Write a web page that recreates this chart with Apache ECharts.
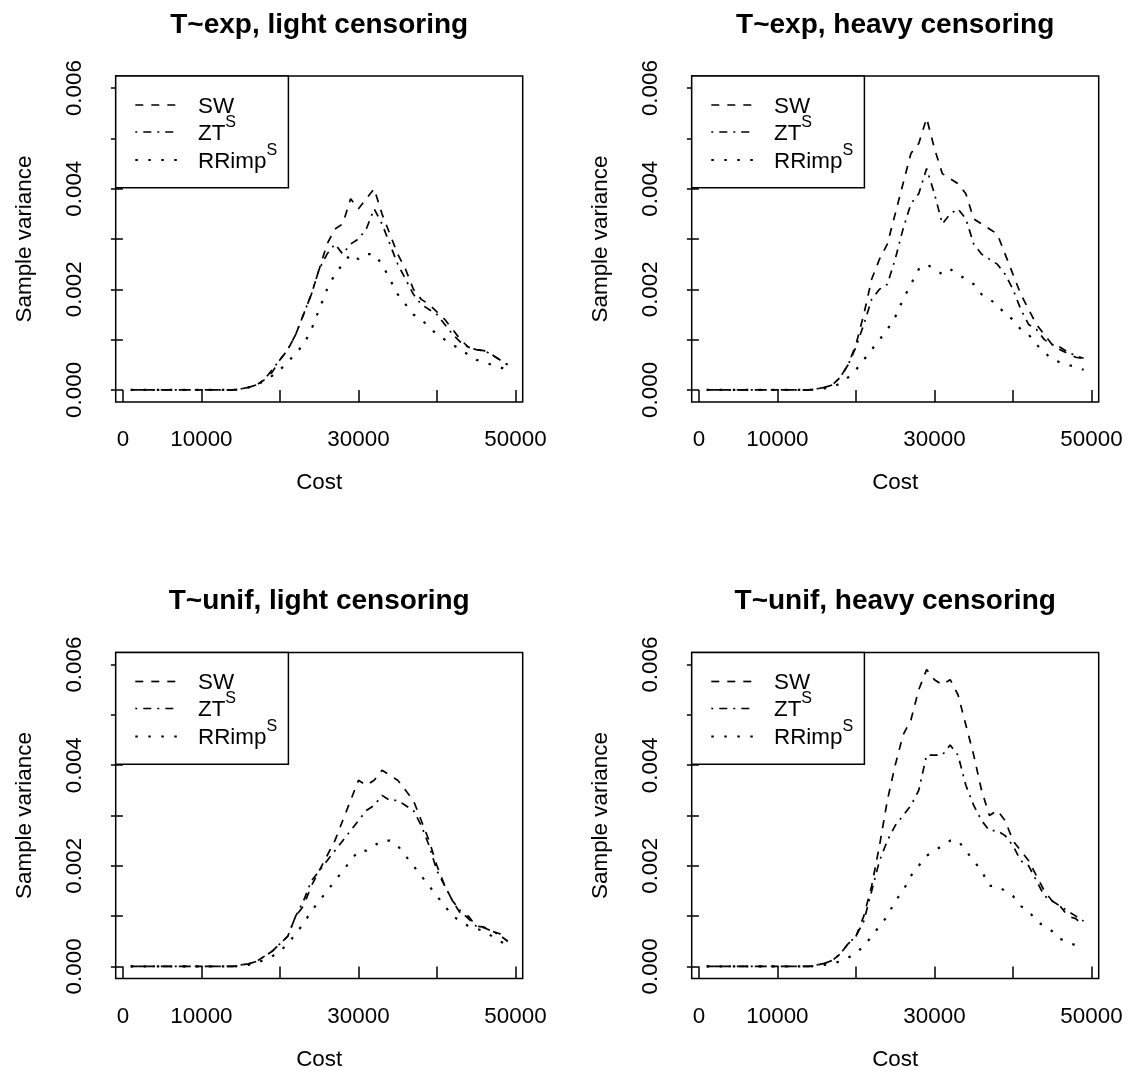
<!DOCTYPE html>
<html>
<head>
<meta charset="utf-8">
<script src="https://cdn.jsdelivr.net/npm/echarts@6/dist/echarts.min.js"></script>
<style>
  html, body { margin: 0; padding: 0; background: #ffffff; }
  #chart { width: 1130px; height: 1089px; }
</style>
</head>
<body>
<div id="chart"></div>
<script>
// Cost grid shared by all four simulation settings
const cost = [
  1000, 2000, 3000, 4000, 5000, 6000, 7000, 8000, 9000, 10000,
  11000, 12000, 13000, 14000, 15000, 16000, 17000, 18000, 19000, 20000,
  21000, 22000, 23000, 24000, 25000, 26000, 27000, 28000, 29000, 30000,
  31000, 32000, 33000, 34000, 35000, 36000, 37000, 38000, 39000, 40000,
  41000, 42000, 43000, 44000, 45000, 46000, 47000, 48000, 49000
];

// Axis ticks and the labels R kept after dropping overlapping ones
const xTicks = [0, 10000, 20000, 30000, 40000, 50000];
const xTickLabels = [0, 10000, 30000, 50000];
const yTicks = [0, 0.001, 0.002, 0.003, 0.004, 0.005, 0.006];
const yTickLabels = [0, 0.002, 0.004, 0.006];

const panelTitles = [
  'T~exp, light censoring', 'T~exp, heavy censoring',
  'T~unif, light censoring', 'T~unif, heavy censoring'
];

// Sample variance of each estimator, per setting
const expLightSW = [
  0, 0, 0, 0, 0, 0, 0, 0, 0, 0, 0, 0, 0, 0,
  0.00002, 0.00005, 0.0001, 0.0002, 0.00035, 0.0006, 0.0008, 0.0011, 0.0015, 0.0019,
  0.0024, 0.0029, 0.0032, 0.0033, 0.0038, 0.0036, 0.0038, 0.0040, 0.0035, 0.0031,
  0.0027, 0.0024, 0.0020, 0.0018, 0.0017, 0.00155, 0.0014, 0.0012, 0.0010, 0.00085,
  0.0008, 0.00078, 0.0007, 0.0006, 0.0005
];
const expLightZT = [
  0, 0, 0, 0, 0, 0, 0, 0, 0, 0, 0, 0, 0, 0,
  0.00002, 0.00005, 0.0001, 0.0002, 0.0004, 0.0006, 0.0008, 0.0011, 0.0015, 0.0019,
  0.0024, 0.0027, 0.0029, 0.0027, 0.0029, 0.0030, 0.0032, 0.0036, 0.0033, 0.0029,
  0.0025, 0.0022, 0.0019, 0.0017, 0.0016, 0.0015, 0.0013, 0.0011, 0.00095, 0.00085,
  0.0008, 0.00078, 0.0007, 0.0006, 0.0005
];
const expLightRR = [
  0, 0, 0, 0, 0, 0, 0, 0, 0, 0, 0, 0, 0, 0,
  0.00001, 0.00005, 0.0001, 0.00018, 0.00028, 0.0004, 0.00055, 0.00073, 0.0009, 0.0012,
  0.0016, 0.0020, 0.0023, 0.0025, 0.0027, 0.0026, 0.0027, 0.0027, 0.0025, 0.0022,
  0.0019, 0.0017, 0.0015, 0.0014, 0.00125, 0.0011, 0.0010, 0.0009, 0.0008, 0.0007,
  0.0006, 0.00055, 0.0005, 0.00045, 0.0004
];

const expHeavySW = [
  0, 0, 0, 0, 0, 0, 0, 0, 0, 0, 0, 0, 0, 0,
  0.00002, 0.00005, 0.0001, 0.00025, 0.0005, 0.0009, 0.0015, 0.0022, 0.0026, 0.0029,
  0.0035, 0.0041, 0.0047, 0.0049, 0.0054, 0.0048, 0.0043, 0.0042, 0.0041, 0.0039,
  0.0034, 0.0033, 0.0032, 0.0031, 0.0027, 0.0023, 0.0019, 0.0016, 0.0013, 0.0011,
  0.0009, 0.0008, 0.00072, 0.00065, 0.00062
];
const expHeavyZT = [
  0, 0, 0, 0, 0, 0, 0, 0, 0, 0, 0, 0, 0, 0,
  0.00002, 0.00005, 0.0001, 0.00025, 0.0005, 0.00085, 0.0013, 0.0018, 0.0020, 0.0021,
  0.0026, 0.0032, 0.0037, 0.0039, 0.0044, 0.0039, 0.0033, 0.0035, 0.0036, 0.0034,
  0.0029, 0.0027, 0.0026, 0.0025, 0.0023, 0.0020, 0.0016, 0.0013, 0.0012, 0.0010,
  0.0009, 0.00085, 0.00075, 0.00068, 0.00063
];
const expHeavyRR = [
  0, 0, 0, 0, 0, 0, 0, 0, 0, 0, 0, 0, 0, 0,
  0.00001, 0.00003, 0.00006, 0.00013, 0.00025, 0.0004, 0.0006, 0.0008, 0.0010, 0.0012,
  0.00145, 0.0018, 0.0021, 0.0024, 0.0025, 0.0024, 0.0023, 0.0024, 0.0023, 0.0022,
  0.0021, 0.0019, 0.0018, 0.0017, 0.0015, 0.0014, 0.0012, 0.0011, 0.0009, 0.00075,
  0.0006, 0.00055, 0.0005, 0.00045, 0.0004
];

const unifLightSW = [
  0, 0, 0, 0, 0, 0, 0, 0, 0, 0, 0, 0, 0, 0,
  0.00003, 0.00005, 0.0001, 0.0002, 0.0003, 0.00045, 0.0006, 0.0010, 0.0012, 0.0016,
  0.0019, 0.0022, 0.0025, 0.0029, 0.0033, 0.0037, 0.0036, 0.0037, 0.0039, 0.0038,
  0.0037, 0.0035, 0.0033, 0.0029, 0.0025, 0.0020, 0.0016, 0.0013, 0.00105, 0.0010,
  0.0008, 0.00078, 0.0007, 0.00065, 0.0005
];
const unifLightZT = [
  0, 0, 0, 0, 0, 0, 0, 0, 0, 0, 0, 0, 0, 0,
  0.00003, 0.00005, 0.0001, 0.0002, 0.0003, 0.00045, 0.0006, 0.0010, 0.0013, 0.0017,
  0.0019, 0.0021, 0.0023, 0.0025, 0.0027, 0.0029, 0.0031, 0.0032, 0.0034, 0.0033,
  0.0033, 0.0032, 0.0031, 0.0028, 0.0024, 0.0019, 0.0016, 0.0013, 0.0011, 0.00095,
  0.0008, 0.00077, 0.0007, 0.00062, 0.0005
];
const unifLightRR = [
  0, 0, 0, 0, 0, 0, 0, 0, 0, 0, 0, 0, 0, 0,
  0.00001, 0.00003, 0.00007, 0.00013, 0.0002, 0.0003, 0.00045, 0.00065, 0.00085, 0.0011,
  0.0013, 0.0015, 0.0017, 0.0019, 0.0021, 0.0023, 0.0023, 0.0024, 0.0025, 0.0025,
  0.0024, 0.0022, 0.0020, 0.0018, 0.0016, 0.0014, 0.0012, 0.0010, 0.0009, 0.0008,
  0.00075, 0.0007, 0.0006, 0.0005, 0.00043
];

const unifHeavySW = [
  0, 0, 0, 0, 0, 0, 0, 0, 0, 0, 0, 0, 0, 0,
  0.00003, 0.00006, 0.00012, 0.00025, 0.00045, 0.0006, 0.0010, 0.0016, 0.0024, 0.0033,
  0.0040, 0.0046, 0.0049, 0.0055, 0.0059, 0.0057, 0.0056, 0.0057, 0.0054, 0.0048,
  0.0042, 0.0035, 0.0030, 0.0031, 0.0029, 0.0025, 0.0023, 0.0021, 0.0018, 0.0015,
  0.0013, 0.0012, 0.0010, 0.00095, 0.0008
];
const unifHeavyZT = [
  0, 0, 0, 0, 0, 0, 0, 0, 0, 0, 0, 0, 0, 0,
  0.00003, 0.00006, 0.00012, 0.00025, 0.00045, 0.0006, 0.0009, 0.0015, 0.0021, 0.0025,
  0.0028, 0.0030, 0.0032, 0.0035, 0.0042, 0.0042, 0.0042, 0.0044, 0.0042, 0.0036,
  0.0032, 0.0029, 0.0027, 0.0027, 0.0026, 0.0024, 0.0021, 0.0020, 0.0017, 0.0014,
  0.0013, 0.0012, 0.0011, 0.0010, 0.0009
];
const unifHeavyRR = [
  0, 0, 0, 0, 0, 0, 0, 0, 0, 0, 0, 0, 0, 0,
  0.00001, 0.00003, 0.00006, 0.0001, 0.00017, 0.00027, 0.0004, 0.0006, 0.0008, 0.0010,
  0.0013, 0.0015, 0.0018, 0.0020, 0.0022, 0.0023, 0.0024, 0.0025, 0.0025, 0.0023,
  0.0021, 0.0019, 0.0016, 0.0016, 0.0015, 0.0014, 0.0012, 0.0011, 0.0009, 0.0008,
  0.0007, 0.00055, 0.00048, 0.00042, 0.0004
];

const panelData = [
  [expLightSW, expLightZT, expLightRR],
  [expHeavySW, expHeavyZT, expHeavyRR],
  [unifLightSW, unifLightZT, unifLightRR],
  [unifHeavySW, unifHeavyZT, unifHeavyRR]
];

// ---- styling ----
const FONT = '"Liberation Sans", Arial, Helvetica, sans-serif';
const BASE = 22.4;
const INK = '#000000';
const estimators = [
  { name: 'SW',    sup: '',  dash: [8, 8],         width: 1.7 },
  { name: 'ZT',    sup: 'S', dash: [2, 6, 8, 6],   width: 1.7 },
  { name: 'RRimp', sup: 'S', dash: [2.5, 10.5],    width: 2.2 }
];

// Plot boxes (pixels)
const boxW = 407, boxH = 326;
const boxes = [
  { left: 115.7, top: 76 }, { left: 691.7, top: 76 },
  { left: 115.7, top: 652.5 }, { left: 691.7, top: 652.5 }
];
// data range 1000..49000 and 0..0.006, widened by 4% on each side
const xMin = -920, xMax = 50920;
const yMin = -0.00024, yMax = 0.00624;

const grids = [], xAxes = [], yAxes = [], series = [], graphics = [];

boxes.forEach((b, i) => {
  grids.push({
    left: b.left, top: b.top, width: boxW, height: boxH,
    show: true, borderColor: INK, borderWidth: 1.5, backgroundColor: 'transparent'
  });
  xAxes.push({
    type: 'value', gridIndex: i, min: xMin, max: xMax,
    axisLine: { show: false },
    axisTick: { show: true, inside: false, length: 12, customValues: xTicks,
                lineStyle: { color: INK, width: 1.5 } },
    axisLabel: { show: true, customValues: xTickLabels, margin: 27, hideOverlap: false,
                 formatter: v => String(v),
                 fontSize: BASE, color: INK, fontFamily: FONT },
    splitLine: { show: false },
    name: 'Cost', nameLocation: 'middle', nameGap: 70,
    nameTextStyle: { fontSize: BASE, color: INK, fontFamily: FONT }
  });
  yAxes.push({
    type: 'value', gridIndex: i, min: yMin, max: yMax,
    axisLine: { show: false },
    axisTick: { show: true, inside: false, length: 12, customValues: yTicks,
                lineStyle: { color: INK, width: 1.5 } },
    axisLabel: { show: true, customValues: yTickLabels, rotate: 90, margin: 30, hideOverlap: false,
                 formatter: v => v.toFixed(3),
                 fontSize: BASE, color: INK, fontFamily: FONT },
    splitLine: { show: false },
    name: 'Sample variance', nameLocation: 'middle', nameGap: 80, nameRotate: 90,
    nameTextStyle: { fontSize: BASE, color: INK, fontFamily: FONT }
  });

  estimators.forEach((est, k) => {
    series.push({
      type: 'line', name: est.name + (est.sup ? '^' + est.sup : ''),
      xAxisIndex: i, yAxisIndex: i,
      data: cost.map((c, j) => [c, panelData[i][k][j]]),
      showSymbol: false, symbol: 'none', silent: true, animation: false,
      lineStyle: { color: INK, width: est.width, type: est.dash, cap: 'butt' }
    });
  });

  // panel title, centred over the plot box
  graphics.push({
    type: 'text', silent: true,
    x: b.left + boxW / 2, y: b.top - 51,
    style: { text: panelTitles[i], fill: INK, font: 'bold 28px ' + FONT,
             textAlign: 'center', textVerticalAlign: 'middle' }
  });

  // legend box in the upper-left corner of the plot
  const lgW = 172.7, lgH = 111.7;
  graphics.push({
    type: 'rect', silent: true, z: 10,
    shape: { x: b.left, y: b.top, width: lgW, height: lgH },
    style: { fill: '#ffffff', stroke: INK, lineWidth: 1.5 }
  });
  const rowY = [29, 56, 84];
  estimators.forEach((est, k) => {
    const y = b.top + rowY[k];
    graphics.push({
      type: 'line', silent: true, z: 11,
      shape: { x1: b.left + 19.6, y1: y, x2: b.left + 62.6, y2: y },
      style: { stroke: INK, lineWidth: est.width, lineDash: est.dash, lineCap: 'butt' }
    });
    graphics.push({
      type: 'text', silent: true, z: 11,
      x: b.left + 82.3, y: y - 2.5,
      style: {
        text: est.sup ? '{m|' + est.name + '}{s|' + est.sup + '}' : '{m|' + est.name + '}',
        rich: {
          m: { fontSize: BASE, fontFamily: FONT, fill: INK, lineHeight: 30, verticalAlign: 'bottom' },
          s: { fontSize: 16, fontFamily: FONT, fill: INK, lineHeight: 30, verticalAlign: 'top' }
        },
        textAlign: 'left', textVerticalAlign: 'middle'
      }
    });
  });
});

const chart = echarts.init(document.getElementById('chart'), null, { renderer: 'canvas' });
chart.setOption({
  backgroundColor: '#ffffff',
  animation: false,
  grid: grids,
  xAxis: xAxes,
  yAxis: yAxes,
  series: series,
  graphic: graphics
});
</script>
</body>
</html>
